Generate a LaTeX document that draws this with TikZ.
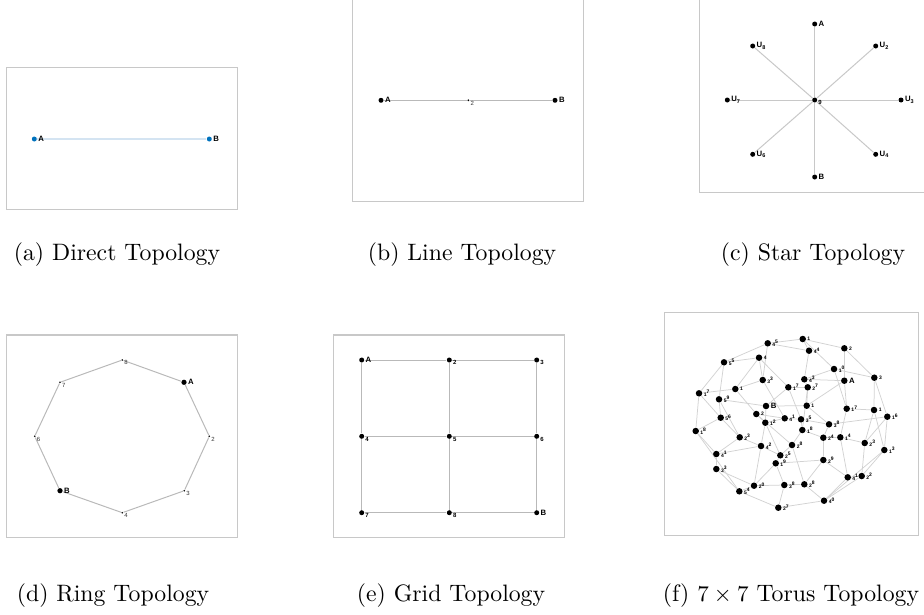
\documentclass[tikz,border=0pt]{standalone}
\usepackage{fontspec}
\usetikzlibrary{backgrounds}
\newfontfamily\lblfont{Liberation Sans}
\definecolor{nodeblue}{RGB}{0,114,189}
\definecolor{linkblue}{RGB}{212,228,242}
\definecolor{framegray}{RGB}{200,200,200}
\definecolor{linkgray}{RGB}{185,185,185}
\definecolor{meshgray}{RGB}{210,210,210}
\newcommand\usub[1]{U\raisebox{-0.7pt}{\fontsize{2.2}{2.4}\selectfont#1}}
\newcommand\mlab[2]{\raisebox{-0.6pt}{#1}\raisebox{0.5pt}{#2}}
\tikzset{
  dot/.style={circle,fill=black,inner sep=0pt,minimum size=2pt},
  tinydot/.style={circle,fill=black,inner sep=0pt,minimum size=0.7pt},
  bluedot/.style={circle,fill=nodeblue,inner sep=0pt,minimum size=2pt},
  meshdot/.style={circle,fill=black,inner sep=0pt,minimum size=2.6pt},
  tag/.style={label={[font=\lblfont\bfseries\fontsize{3.1}{3.5}\selectfont,inner sep=0.2pt,anchor=west]east:#1}},
  sub/.style={label={[font=\lblfont\fontsize{2.4}{2.6}\selectfont,text=black!80,inner sep=0.1pt,anchor=north west]east:#1}},
  boldsub/.style={label={[font=\lblfont\bfseries\fontsize{2.4}{2.6}\selectfont,inner sep=0.1pt,anchor=north west]east:#1}},
  mlabel/.style={font=\lblfont\bfseries\fontsize{2}{2.2}\selectfont,inner sep=0.2pt,anchor=west},
  frame/.style={draw=framegray,line width=0.45pt},
  link/.style={draw=linkgray,line width=0.4pt},
  mesh/.style={draw=meshgray,line width=0.3pt},
  subcap/.style={font=\fontsize{9.5}{11}\selectfont,inner sep=0pt}
}
\begin{document}
\begin{tikzpicture}[x=0.4pt,y=-0.4pt]
\useasboundingbox (0,0) rectangle (924,614);

% (a) direct
\draw[frame] (6.7,67.3) rectangle (237.3,209.7);
\node[bluedot,tag=A] (da) at (34.3,139) {};
\node[bluedot,tag=B] (db) at (209.3,139) {};

% (b) line
\draw[frame] (352.3,-5) -- (352.3,201.3) -- (583.7,201.3) -- (583.7,-5);
\node[dot,tag=A] (la) at (381,100.3) {};
\node[tinydot,minimum size=0.8pt,sub=2] (l2) at (468.3,100.3) {};
\node[dot,tag=B] (lb) at (555,100.3) {};

% (c) star
\draw[frame] (699.3,-5) -- (699.3,192.3) -- (930,192.3);
\node[dot,boldsub=9] (s9) at (814.7,100) {};
\node[dot,tag=A] (sa) at (814.7,24) {};
\node[dot,tag=\usub{2}] (s2) at (875.7,46) {};
\node[dot,tag=\usub{3}] (s3) at (901,100) {};
\node[dot,tag=\usub{4}] (s4) at (875.7,154.3) {};
\node[dot,tag=B] (sb) at (814.7,177) {};
\node[dot,tag=\usub{6}] (s6) at (752.7,154.3) {};
\node[dot,tag=\usub{7}] (s7) at (727.3,100) {};
\node[dot,tag=\usub{8}] (s8) at (752.7,46) {};

% (d) ring
\draw[frame] (6.7,335) rectangle (237.3,537.3);
\node[tinydot,sub=8] (r8) at (122.3,360) {};
\node[dot,minimum size=2.1pt,tag=A] (ra) at (184,382.3) {};
\node[tinydot,sub=2] (r2) at (209.3,436.3) {};
\node[tinydot,sub=3] (r3) at (184.3,490.7) {};
\node[tinydot,sub=4] (r4) at (122.3,512.7) {};
\node[dot,minimum size=2.1pt,tag=B] (rb) at (60,490.7) {};
\node[tinydot,sub=6] (r6) at (34.7,436.3) {};
\node[tinydot,sub=7] (r7) at (60,382.3) {};

% (e) grid
\draw[frame] (333.3,335) rectangle (564.3,537.3);
\node[dot,tag=A] (g1) at (361.7,360) {};
\node[dot,boldsub=2] (g2) at (449.3,360) {};
\node[dot,boldsub=3] (g3) at (536.7,360) {};
\node[dot,boldsub=4] (g4) at (361.7,436.3) {};
\node[dot,boldsub=5] (g5) at (449.3,436.3) {};
\node[dot,boldsub=6] (g6) at (536.7,436.3) {};
\node[dot,boldsub=7] (g7) at (361.7,512.7) {};
\node[dot,boldsub=8] (g8) at (449.3,512.7) {};
\node[dot,tag=B] (g9) at (536.7,512.7) {};

% (f) torus
\draw[frame] (664.3,312.7) rectangle (918.3,535.7);
\foreach \i/\x/\y/\a/\b in {1/802.7/339/1/{},2/767.7/343.3/4/5,3/809/350.7/4/4,
  4/844.3/348.3/2/{},5/724/362.3/5/5,6/759/357.7/4/{},7/834/369/1/0,
  8/874.3/377.7/3/{},9/762.7/380/3/3,10/804.3/379.3/4/3,12/788.3/387.3/1/7,
  13/807.7/387.3/2/7,14/699/393.3/1/7,15/735.3/389/1/{},16/719/399.3/5/9,
  18/806.7/405.7/1/{},19/846.7/408.7/1/7,20/874/410/1/{},21/887.3/416.7/1/6,
  22/720.7/417.7/5/6,23/756.3/414/2/{},24/784.7/418.3/4/1,25/765.3/422.7/1/2,
  26/801/419.3/3/5,27/829/424.3/3/8,28/695.7/431/1/8,29/802.3/430/1/8,
  30/823.3/437.7/2/4,31/840.3/437.3/1/4,32/739.7/437.3/2/3,33/761/446/4/2,
  34/792/445/2/8,35/864.7/443/2/3,36/716.3/454/4/1,37/780.3/455.3/2/5,
  38/775.7/463.3/1/9,39/884.3/450/1/3,40/823.3/460/2/9,41/716.3/469/3/3,
  42/847.7/477.3/4/1,43/861.7/476/2/2,44/754/485.7/2/0,45/784.3/485/3/8,
  46/804.3/484.3/2/8,47/739.3/491.3/5/4,48/824/500.7/4/0,49/778.3/507.7/2/7}
  \node[meshdot,label={[mlabel]east:\mlab{\a}{\b}}] (t\i) at (\x,\y) {};
\node[meshdot,tag=A] (t11) at (844.3,380.7) {};
\node[meshdot,tag=B] (t17) at (766,406) {};

% connectors
\begin{pgfonlayer}{background}
\draw[linkblue,line width=0.8pt] (da) -- (db);
\draw[link] (la) -- (l2) -- (lb);
\foreach \n in {sa,s2,s3,s4,sb,s6,s7,s8}
  \draw[link,draw=framegray] (s9) -- (\n);
\draw[link] (r8) -- (ra) -- (r2) -- (r3) -- (r4) -- (rb) -- (r6) -- (r7) -- (r8);
\draw[link] (g1) -- (g2) -- (g3) (g4) -- (g5) -- (g6) (g7) -- (g8) -- (g9)
  (g1) -- (g4) -- (g7) (g2) -- (g5) -- (g8) (g3) -- (g6) -- (g9);
\foreach \p/\q in {1/2,1/3,1/4,1/7,2/5,2/3,2/9,3/10,4/8,4/11,5/6,5/14,5/16,
  6/15,6/12,6/9,7/8,7/10,7/19,8/20,8/21,9/15,9/24,10/11,10/13,11/18,11/19,
  12/13,12/17,12/26,13/18,13/29,14/15,14/28,14/22,15/23,16/22,16/17,16/32,
  17/18,17/25,18/27,19/20,19/31,20/39,20/35,21/35,21/39,21/27,22/32,22/28,
  23/25,23/34,23/24,24/25,24/26,25/33,25/37,26/27,26/29,27/30,28/36,28/47,
  29/30,29/34,30/31,30/40,31/35,31/42,32/36,32/33,33/36,33/37,33/44,34/37,
  34/46,35/43,36/41,37/38,38/44,38/45,38/40,39/43,39/48,40/46,40/42,41/44,
  41/47,42/43,42/48,43/48,44/45,44/47,45/46,45/49,46/48,47/49,48/49}
  \draw[mesh] (t\p) -- (t\q);
\end{pgfonlayer}

% captions
\node[subcap] (capa) at (117,255) {(a) Direct Topology};
\node[subcap] (capb) at (462,255) {(b) Line Topology};
\node[subcap] (capc) at (813,255) {(c) Star Topology};
\node[subcap] (capd) at (113,596) {(d) Ring Topology};
\node[subcap] (cape) at (451,596) {(e) Grid Topology};
\node[subcap] (capf) at (791,596) {(f) $7\times7$ Torus Topology};
\end{tikzpicture}
\end{document}
